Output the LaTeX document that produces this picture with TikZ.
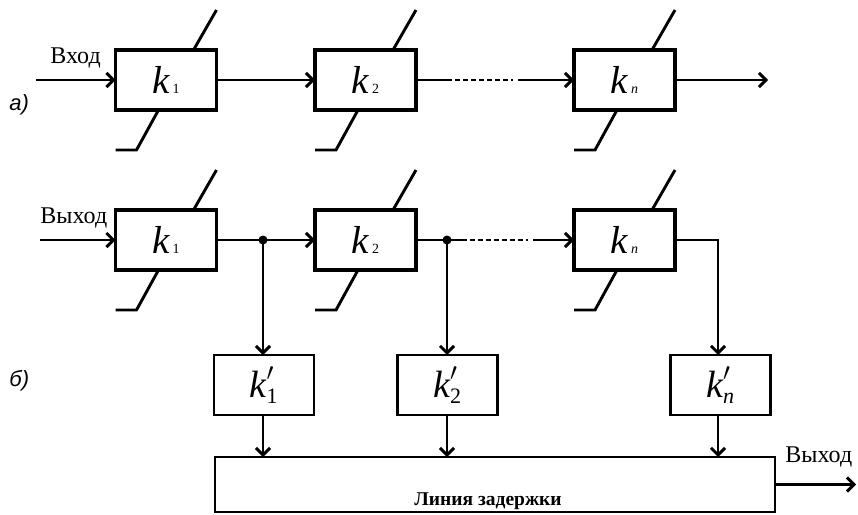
\documentclass[tikz,border=0pt]{standalone}
\usepackage{fontspec}
\setmainfont{Liberation Serif}
\newfontfamily\labfont{Liberation Sans}
\usetikzlibrary{arrows.meta}
\newcommand{\kk}[1]{{\fontsize{39}{42}\selectfont\itshape k}\hspace{3pt}{\fontsize{14}{16}\selectfont #1}}
\newcommand{\kq}[1]{\fontsize{38}{42}\selectfont$\hbox{\itshape k}'_{\hbox{\fontsize{22}{24}\selectfont #1}}$}
\begin{document}
\begin{tikzpicture}[x=1pt,y=-1pt,line width=2.9pt,
  blk/.style={draw,rectangle,line width=3.1pt,outer sep=0pt,inner sep=0pt,minimum width=101pt,minimum height=60pt},
  kblk/.style={draw,rectangle,line width=2.9pt,outer sep=0pt,inner sep=0pt,minimum width=100pt,minimum height=60pt},
  arr/.style={-{Straight Barb[length=7pt,width=14pt]}},
  dots/.style={dash pattern=on 4.5pt off 3.5pt},
  txt/.style={inner sep=0pt,font=\fontsize{24}{28}\selectfont},
  lab/.style={inner sep=0pt,font=\labfont\itshape\fontsize{22}{26}\selectfont},
  jdot/.style={circle,fill,inner sep=0pt,minimum size=9pt}]
\useasboundingbox (0,0) rectangle (858,514);
% row a
\node[blk] (a1) at (166,80) {\kk{1}};
\node[blk] (a2) at (365.5,80) {\kk{2}};
\node[blk] (a3) at (624.5,80) {\kk{\itshape n}};
% row b
\node[blk] (b1) at (166,240) {\kk{1}};
\node[blk] (b2) at (365.5,240) {\kk{2}};
\node[blk] (b3) at (624.5,240) {\kk{\itshape n}};
% k' boxes
\node[kblk] (c1) at (264,385) {\kq{1}};
\node[kblk] (c2) at (447.5,385) {\kq{2}};
\node[kblk] (c3) at (720.5,385) {\kq{\itshape n}};
% delay line
\node[draw,rectangle,line width=2.9pt,outer sep=0pt,minimum width=560pt,minimum height=55pt] (dl) at (495,484.5) {};
\node[inner sep=0pt,anchor=base,font=\upshape\bfseries\fontsize{19.5}{23}\selectfont] (dlt) at (488,505) {Линия задержки};
% texts
\node[txt,anchor=base west] (tin) at (49,63) {Вход};
\node[txt,anchor=base west] (tin2) at (39,223) {Выход};
\node[txt,anchor=base west] (tout) at (784,462) {Выход};
\node[lab,anchor=base west] (la) at (8,110) {а)};
\node[lab,anchor=base west] (lb) at (8,386) {б)};
% slanted lines
\foreach \X in {a1,a2,a3,b1,b2,b3}{
  \draw ([xshift=78pt]\X.north west) -- ([yshift=40pt]\X.north east);
  \draw ([xshift=43pt]\X.south west) -- ([xshift=21pt,yshift=-40pt]\X.south west) -- ([yshift=-40pt]\X.south west);
}
% row a connectors
\coordinate (inA) at (36,80);
\coordinate (pA1) at (447,80);
\coordinate (pA2) at (513,80);
\coordinate (pA3) at (518,80);
\coordinate (outA) at (768,80);
\draw[arr] (inA) -- (a1.west);
\draw[arr] (a1.east) -- (a2.west);
\draw (a2.east) -- (pA1);
\draw[dots] (pA1) -- (pA2);
\draw[arr] (pA3) -- (a3.west);
\draw[arr] (a3.east) -- (outA);
% row b connectors
\coordinate (inB) at (40,240);
\node[jdot] (d1) at (263,240) {};
\node[jdot] (d2) at (447,240) {};
\coordinate (pB1) at (462,240);
\coordinate (pB2) at (528,240);
\coordinate (pB3) at (533,240);
\coordinate (cr) at (718,240);
\draw[arr] (inB) -- (b1.west);
\draw[arr] (b1.east) -- (b2.west);
\draw[arr] (d1.center) -- (d1.center |- c1.north);
\draw (b2.east) -- (pB1);
\draw[arr] (d2.center) -- (d2.center |- c2.north);
\draw[dots] (pB1) -- (pB2);
\draw[arr] (pB3) -- (b3.west);
\draw[arr] (b3.east) -- (cr) -- (cr |- c3.north);
% down to delay line
\draw[arr] (d1.center |- c1.south) -- (d1.center |- dl.north);
\draw[arr] (d2.center |- c2.south) -- (d2.center |- dl.north);
\draw[arr] (cr |- c3.south) -- (cr |- dl.north);
\coordinate (outB) at (856,484.5);
\draw[arr] (dl.east) -- (outB);
\end{tikzpicture}
\end{document}
